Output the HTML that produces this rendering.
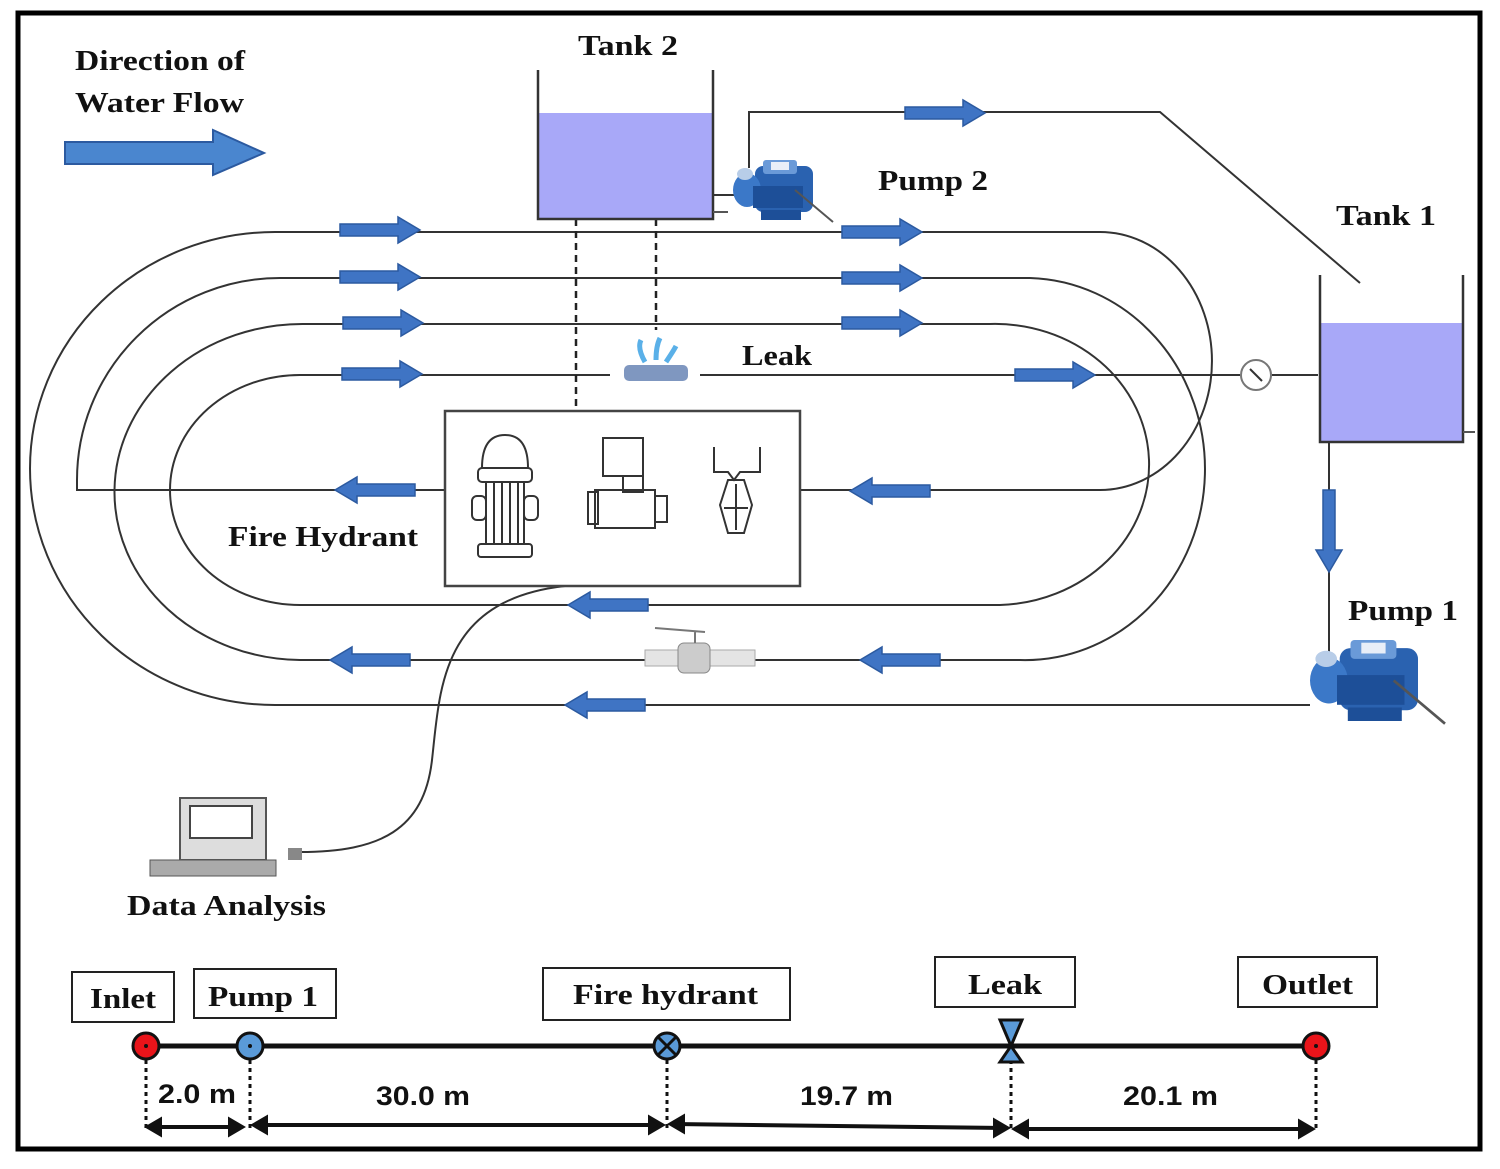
<!DOCTYPE html>
<html><head><meta charset="utf-8"><style>
html,body{margin:0;padding:0;background:#fff;}
svg{display:block;}
.lab{font-family:"Liberation Serif",serif;font-weight:bold;font-size:29px;fill:#111;}
.dim{font-family:"Liberation Sans",sans-serif;font-weight:bold;font-size:27px;fill:#111;}
</style></head><body>
<svg width="1500" height="1169" viewBox="0 0 1500 1169" xmlns="http://www.w3.org/2000/svg">
<defs>
<g id="ar"><path d="M0,-6 H58 V-13 L80,0 L58,13 V6 H0 Z" fill="#3f74c4" stroke="#2c5aa0" stroke-width="1.5"/></g>
<g id="al"><path d="M80,-6 H22 V-13 L0,0 L22,13 V6 H80 Z" fill="#3f74c4" stroke="#2c5aa0" stroke-width="1.5"/></g>
<g id="pump">
<rect x="22" y="6" width="58" height="46" rx="8" fill="#2a62b0"/>
<rect x="30" y="0" width="34" height="14" rx="3" fill="#6a9ad8"/>
<rect x="38" y="2" width="18" height="8" fill="#e8eef8"/>
<ellipse cx="14" cy="30" rx="14" ry="17" fill="#3b78c8"/>
<ellipse cx="12" cy="14" rx="8" ry="6" fill="#b8cde8"/>
<rect x="20" y="26" width="50" height="22" fill="#1d4f98"/>
<rect x="28" y="50" width="40" height="10" fill="#1d4f98"/>
<line x1="62" y1="30" x2="100" y2="62" stroke="#555" stroke-width="2"/>
</g>
</defs>
<rect x="18" y="13" width="1462" height="1136" fill="none" stroke="#000" stroke-width="5"/>

<path d="M65,142 H213 V130 L264,153 L213,175 V164 H65 Z" fill="#4a86cf" stroke="#2c5aa0" stroke-width="2"/>
<text class="lab" x="75" y="70" textLength="170" lengthAdjust="spacingAndGlyphs">Direction of</text>
<text class="lab" x="75" y="112" textLength="169" lengthAdjust="spacingAndGlyphs">Water Flow</text>

<g fill="none" stroke="#333" stroke-width="2">
<path d="M1100,232 H275 A245,236.5 0 0 0 275,705 H1310"/>
<path d="M1030,278 H280 A203,202 0 0 0 77,480 V490 H445"/>
<path d="M990,324 H305 A188,168 0 0 0 300,660 H1020 A180,191 0 0 0 1030,278"/>
<path d="M300,375 H610 M700,375 H1240 M1272,375 H1318"/>
<path d="M300,375 A130,115 0 0 0 300,605 H1000 A154,140.5 0 0 0 990,324"/>
<path d="M1100,232 A112,129 0 0 1 1100,490 H800"/>
<path d="M690,195 H738"/>
<path d="M749,168 V112 H1160 L1360,283"/>
<path d="M1329,442 V660"/>
<path d="M565,586 C440,600 440,690 432,760 C424,830 380,852 300,852"/>
</g>
<g stroke="#222" stroke-width="2.5" stroke-dasharray="7,5">
<line x1="576" y1="195" x2="576" y2="411"/>
<line x1="656" y1="195" x2="656" y2="330"/>
</g>

<use href="#ar" x="340" y="230"/><use href="#ar" x="340" y="277"/>
<use href="#ar" x="343" y="323"/><use href="#ar" x="342" y="374"/>
<use href="#ar" x="842" y="232"/><use href="#ar" x="842" y="278"/>
<use href="#ar" x="842" y="323"/><use href="#ar" x="1015" y="375"/>
<use href="#ar" x="905" y="113"/>
<use href="#al" x="335" y="490"/><use href="#al" x="850" y="491"/>
<use href="#al" x="568" y="605"/><use href="#al" x="330" y="660"/>
<use href="#al" x="860" y="660"/><use href="#al" x="565" y="705"/>
<path d="M1323,490 V550 H1316 L1329,572 L1342,550 H1335 V490 Z" fill="#3f74c4" stroke="#2c5aa0" stroke-width="1.5"/>

<rect x="539" y="113" width="174" height="105" fill="#a8a8f8"/>
<path d="M538,70 V219 H713 V70" fill="none" stroke="#333" stroke-width="2.5"/>
<path d="M713,212 H728" stroke="#555" stroke-width="2"/>
<text class="lab" x="578" y="55" textLength="100" lengthAdjust="spacingAndGlyphs">Tank 2</text>
<use href="#pump" x="733" y="160"/>
<text class="lab" x="878" y="190" textLength="110" lengthAdjust="spacingAndGlyphs">Pump 2</text>

<rect x="1321" y="323" width="141" height="118" fill="#a8a8f8"/>
<path d="M1320,275 V442 H1463 V275" fill="none" stroke="#333" stroke-width="2.5"/>
<path d="M1463,432 H1475" stroke="#555" stroke-width="2"/>
<text class="lab" x="1336" y="225" textLength="100" lengthAdjust="spacingAndGlyphs">Tank 1</text>
<circle cx="1256" cy="375" r="15" fill="#fff" stroke="#777" stroke-width="2"/>
<line x1="1250" y1="369" x2="1262" y2="381" stroke="#333" stroke-width="2"/>
<g transform="translate(1310,640) scale(1.35)"><use href="#pump"/></g>
<text class="lab" x="1348" y="620" textLength="110" lengthAdjust="spacingAndGlyphs">Pump 1</text>

<rect x="624" y="365" width="64" height="16" rx="5" fill="#7f97c0"/>
<path d="M645,362 q-8,-14 -4,-22 M656,360 q0,-14 4,-22 M666,362 q8,-12 10,-16" stroke="#5ab0e8" stroke-width="5" fill="none"/>
<text class="lab" x="742" y="365" textLength="70" lengthAdjust="spacingAndGlyphs">Leak</text>

<rect x="645" y="650" width="110" height="16" fill="#e4e4e4" stroke="#aaa"/>
<rect x="678" y="643" width="32" height="30" rx="6" fill="#ccc" stroke="#888"/>
<path d="M655,628 L705,632 M695,632 V643" stroke="#777" stroke-width="2" fill="none"/>

<rect x="445" y="411" width="355" height="175" fill="#fff" stroke="#444" stroke-width="2.5"/>
<g fill="none" stroke="#333" stroke-width="2">
<path d="M482,468 Q482,435 505,435 Q528,435 528,468 Z"/>
<rect x="478" y="468" width="54" height="14" rx="4"/>
<rect x="486" y="482" width="38" height="62"/>
<path d="M494,482 V544 M502,482 V544 M510,482 V544 M518,482 V544"/>
<rect x="472" y="496" width="14" height="24" rx="5"/><rect x="524" y="496" width="14" height="24" rx="5"/>
<rect x="478" y="544" width="54" height="13" rx="3"/>
<rect x="603" y="438" width="40" height="38"/><rect x="623" y="476" width="20" height="16"/>
<rect x="595" y="490" width="60" height="38"/><rect x="588" y="492" width="10" height="32"/>
<rect x="655" y="496" width="12" height="26"/>
<path d="M714,447 V472 H728 L734,480 L740,472 H760 V447"/>
<path d="M728,480 H744 L752,505 L744,533 H728 L720,505 Z"/>
<path d="M736,484 V530 M724,508 H748"/>
</g>
<text class="lab" x="228" y="546" textLength="190" lengthAdjust="spacingAndGlyphs">Fire Hydrant</text>

<rect x="180" y="798" width="86" height="62" fill="#ddd" stroke="#555" stroke-width="2"/>
<rect x="190" y="806" width="62" height="32" fill="#fff" stroke="#444" stroke-width="2"/>
<rect x="150" y="860" width="126" height="16" fill="#aaa" stroke="#555"/>
<rect x="288" y="848" width="14" height="12" fill="#888"/>
<text class="lab" x="127" y="915" textLength="199" lengthAdjust="spacingAndGlyphs">Data Analysis</text>

<line x1="146" y1="1046" x2="1316" y2="1046" stroke="#111" stroke-width="5"/>
<g fill="#fff" stroke="#222" stroke-width="2">
<rect x="72" y="972" width="102" height="50"/><rect x="194" y="969" width="142" height="49"/>
<rect x="543" y="968" width="247" height="52"/><rect x="935" y="957" width="140" height="50"/>
<rect x="1238" y="957" width="139" height="50"/>
</g>
<text class="lab" x="90" y="1008" textLength="66" lengthAdjust="spacingAndGlyphs">Inlet</text>
<text class="lab" x="208" y="1006" textLength="110" lengthAdjust="spacingAndGlyphs">Pump 1</text>
<text class="lab" x="573" y="1004" textLength="185" lengthAdjust="spacingAndGlyphs">Fire hydrant</text>
<text class="lab" x="968" y="994" textLength="74" lengthAdjust="spacingAndGlyphs">Leak</text>
<text class="lab" x="1262" y="994" textLength="91" lengthAdjust="spacingAndGlyphs">Outlet</text>
<g stroke="#111" stroke-width="3" stroke-dasharray="4,4">
<line x1="146" y1="1060" x2="146" y2="1132"/><line x1="250" y1="1060" x2="250" y2="1132"/>
<line x1="667" y1="1060" x2="667" y2="1132"/><line x1="1011" y1="1060" x2="1011" y2="1132"/>
<line x1="1316" y1="1060" x2="1316" y2="1132"/>
</g>
<circle cx="146" cy="1046" r="13" fill="#e8141a" stroke="#111" stroke-width="3"/>
<circle cx="146" cy="1046" r="2" fill="#111"/>
<circle cx="250" cy="1046" r="13" fill="#5a9ad8" stroke="#111" stroke-width="3"/>
<circle cx="250" cy="1046" r="2" fill="#111"/>
<circle cx="667" cy="1046" r="13" fill="#5a9ad8" stroke="#111" stroke-width="3"/>
<path d="M658,1037 L676,1055 M676,1037 L658,1055" stroke="#111" stroke-width="3"/>
<path d="M1000,1020 H1022 L1011,1046 L1022,1062 H1000 L1011,1046 Z" fill="#5a9ad8" stroke="#111" stroke-width="3"/>
<circle cx="1316" cy="1046" r="13" fill="#e8141a" stroke="#111" stroke-width="3"/>
<circle cx="1316" cy="1046" r="2" fill="#111"/>
<g stroke="#111" stroke-width="4" fill="#111">
<line x1="150" y1="1127" x2="240" y2="1127"/><path d="M148,1127 l12,-7 v14 z M242,1127 l-12,-7 v14 z"/>
<line x1="256" y1="1125" x2="660" y2="1125"/><path d="M254,1125 l12,-7 v14 z M662,1125 l-12,-7 v14 z"/>
<line x1="673" y1="1124" x2="1005" y2="1128"/><path d="M671,1124 l12,-7 v14 z M1007,1128 l-12,-7 v14 z"/>
<line x1="1017" y1="1129" x2="1310" y2="1129"/><path d="M1015,1129 l12,-7 v14 z M1312,1129 l-12,-7 v14 z"/>
</g>
<text class="dim" x="158" y="1103" textLength="78" lengthAdjust="spacingAndGlyphs">2.0 m</text>
<text class="dim" x="376" y="1105" textLength="94" lengthAdjust="spacingAndGlyphs">30.0 m</text>
<text class="dim" x="800" y="1105" textLength="93" lengthAdjust="spacingAndGlyphs">19.7 m</text>
<text class="dim" x="1123" y="1105" textLength="95" lengthAdjust="spacingAndGlyphs">20.1 m</text>
</svg>
</body></html>
